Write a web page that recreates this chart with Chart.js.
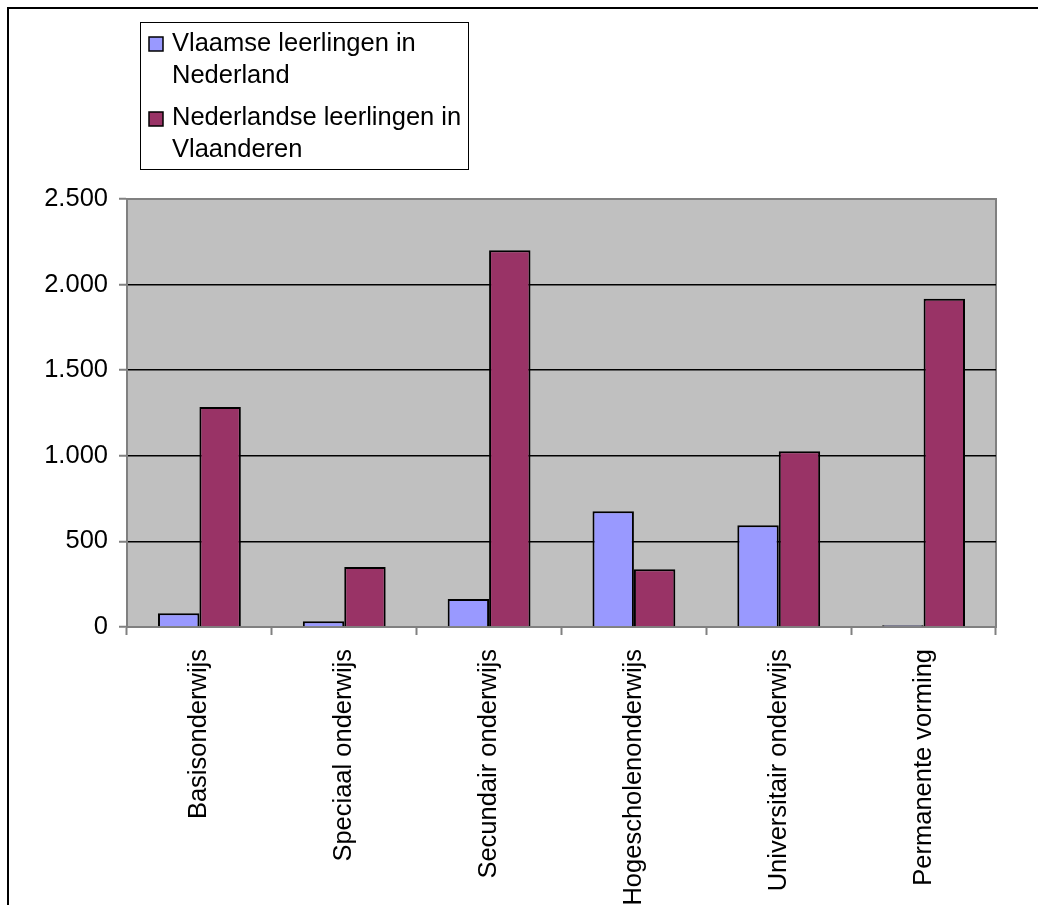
<!DOCTYPE html>
<html lang="nl">
<head>
<meta charset="UTF-8">
<title>Leerlingen</title>
<style>
  html, body { margin: 0; padding: 0; background: #fff; }
  #wrap { width: 1038px; height: 905px; position: relative; }
</style>
</head>
<body>
<div id="wrap"><canvas id="chart"></canvas></div>
<script src="https://cdn.jsdelivr.net/npm/chart.js"></script>
<script>
const categories = ['Basisonderwijs', 'Speciaal onderwijs', 'Secundair onderwijs',
                    'Hogescholenonderwijs', 'Universitair onderwijs', 'Permanente vorming'];
const vlaamseInNederland = [80, 33, 164, 676, 595, 10];
const nederlandseInVlaanderen = [1285, 350, 2200, 337, 1027, 1918];
const seriesNames = ['Vlaamse leerlingen in Nederland', 'Nederlandse leerlingen in Vlaanderen'];
const legendLines = [['Vlaamse leerlingen in', 'Nederland'], ['Nederlandse leerlingen in', 'Vlaanderen']];
const yTickLabels = ['0', '500', '1.000', '1.500', '2.000', '2.500'];

const FONT = '"Liberation Sans", Arial, sans-serif';
const colors = ['#9999FF', '#993366'];

// grijze plotachtergrond, rand en kader
const frame = {
    id: 'frame',
    beforeDraw(chart) {
        const c = chart.ctx, a = chart.chartArea;
        c.save();
        c.fillStyle = '#C0C0C0';
        c.fillRect(a.left, a.top, a.right - a.left, a.bottom - a.top);
        c.strokeStyle = '#808080';
        c.lineWidth = 2;
        c.beginPath();
        c.moveTo(a.left, a.top);
        c.lineTo(a.right, a.top);
        c.lineTo(a.right, a.bottom);
        c.stroke();
        c.strokeStyle = '#000';
        c.lineWidth = 2;
        c.strokeRect(8, 8, 1200, 1200);
        c.restore();
    },
    afterDraw(chart) {
        // legenda met twee regels per reeks
        const c = chart.ctx;
        c.save();
        c.fillStyle = '#fff';
        c.fillRect(140, 22, 328, 147);
        c.strokeStyle = '#000';
        c.lineWidth = 1;
        c.strokeRect(140.5, 22.5, 328, 147);
        c.font = '25.5px ' + FONT;
        c.textBaseline = 'alphabetic';
        const tops = [37, 112];
        const baselines = [[51, 83], [125, 157]];
        chart.data.datasets.forEach((ds, i) => {
            c.fillStyle = ds.backgroundColor;
            c.fillRect(149, tops[i], 14, 14);
            c.strokeStyle = '#000';
            c.lineWidth = 1.5;
            c.strokeRect(149, tops[i], 14, 14);
            c.fillStyle = '#000';
            legendLines[i].forEach((line, j) => c.fillText(line, 172, baselines[i][j]));
        });
        c.restore();
    }
};

new Chart(document.getElementById('chart'), {
    type: 'bar',
    data: {
        labels: categories,
        datasets: [{
            label: seriesNames[0],
            data: vlaamseInNederland,
            backgroundColor: colors[0],
            borderColor: '#000',
            borderWidth: 2,
            barPercentage: 1,
            categoryPercentage: 0.572
        }, {
            label: seriesNames[1],
            data: nederlandseInVlaanderen,
            backgroundColor: colors[1],
            borderColor: '#000',
            borderWidth: 2,
            barPercentage: 1,
            categoryPercentage: 0.572
        }]
    },
    options: {
        responsive: true,
        maintainAspectRatio: false,
        animation: false,
        layout: { padding: { top: 199, right: 42, left: 0, bottom: 0 } },
        plugins: {
            legend: { display: false },
            tooltip: { enabled: false }
        },
        scales: {
            x: {
                grid: {
                    offset: true,
                    drawOnChartArea: false,
                    drawTicks: true,
                    tickLength: 8,
                    tickColor: '#808080',
                    tickWidth: 2
                },
                border: { color: '#808080', width: 2 },
                ticks: {
                    autoSkip: false,
                    minRotation: 90,
                    maxRotation: 90,
                    padding: 14,
                    color: '#000',
                    font: { family: FONT, size: 25.5 }
                },
                afterFit(scale) { scale.height = 278; }
            },
            y: {
                min: 0,
                max: 2500,
                ticks: {
                    stepSize: 500,
                    padding: 11,
                    color: '#000',
                    font: { family: FONT, size: 25.5 },
                    callback: (v) => yTickLabels[v / 500]
                },
                grid: {
                    color: (ctx) => (ctx.tick && (ctx.tick.value === 0 || ctx.tick.value === 2500)) ? 'rgba(0,0,0,0)' : '#000',
                    lineWidth: 1.5,
                    tickLength: 8,
                    tickColor: '#808080',
                    tickWidth: 2
                },
                border: { color: '#808080', width: 2 },
                afterFit(scale) { scale.width = 127; }
            }
        }
    },
    plugins: [frame]
});
</script>
</body>
</html>
